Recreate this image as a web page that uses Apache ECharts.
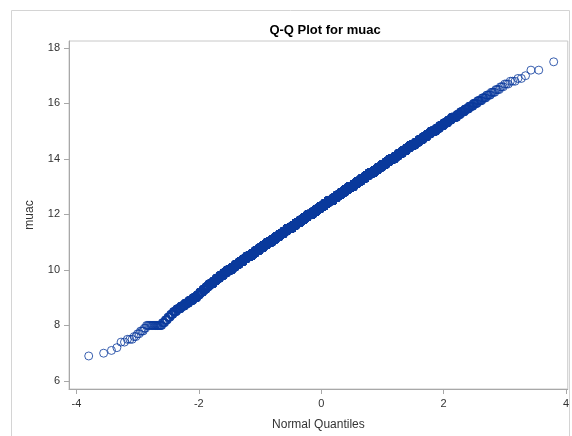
<!DOCTYPE html>
<html>
<head>
<meta charset="utf-8">
<script src="https://cdn.jsdelivr.net/npm/echarts@6/dist/echarts.min.js"></script>
<style>html,body{margin:0;padding:0;background:#fff}#c{width:572px;height:436px}</style>
</head>
<body>
<div id="c"></div>
<script>
// ---- data ----
const chartTitle = "Q-Q Plot for muac";
const xTitle = "Normal Quantiles";
const yTitle = "muac";
const xTicks = [-4, -2, 0, 2, 4];
const yTicks = [6, 8, 10, 12, 14, 16, 18];
// observed muac values (distinct levels, sorted) and how many observations sit at each level
const muacLevels = [
  6.9, 7.0, 7.1, 7.2, 7.4, 7.5, 7.6, 7.7, 7.8, 7.9,
  8.0, 8.1, 8.2, 8.3, 8.4, 8.5, 8.6, 8.7, 8.8, 8.9,
  9.0, 9.1, 9.2, 9.3, 9.4, 9.5, 9.6, 9.7, 9.8, 9.9,
  10.0, 10.1, 10.2, 10.3, 10.4, 10.5, 10.6, 10.7, 10.8, 10.9,
  11.0, 11.1, 11.2, 11.3, 11.4, 11.5, 11.6, 11.7, 11.8, 11.9,
  12.0, 12.1, 12.2, 12.3, 12.4, 12.5, 12.6, 12.7, 12.8, 12.9,
  13.0, 13.1, 13.2, 13.3, 13.4, 13.5, 13.6, 13.7, 13.8, 13.9,
  14.0, 14.1, 14.2, 14.3, 14.4, 14.5, 14.6, 14.7, 14.8, 14.9,
  15.0, 15.1, 15.2, 15.3, 15.4, 15.5, 15.6, 15.7, 15.8, 15.9,
  16.0, 16.1, 16.2, 16.3, 16.4, 16.5, 16.6, 16.7, 16.8, 16.9,
  17.0, 17.2, 17.5
];
const levelCounts = [
  1, 1, 1, 1, 2, 3, 2, 2, 3, 2,
  22, 6, 6, 7, 8, 11, 15, 18, 20, 24,
  27, 20, 27, 29, 28, 48, 36, 48, 58, 54,
  92, 67, 87, 95, 88, 147, 104, 131, 141, 128,
  207, 143, 177, 185, 164, 261, 176, 213, 219, 190,
  294, 195, 230, 230, 195, 296, 191, 221, 217, 179,
  267, 168, 190, 182, 148, 215, 133, 146, 137, 109,
  153, 93, 100, 92, 71, 99, 59, 62, 55, 42,
  57, 32, 34, 30, 22, 29, 16, 17, 14, 12,
  10, 9, 7, 6, 5, 4, 3, 3, 3, 2,
  1, 2, 1
];

// ---- Q-Q construction: sorted observations vs. Blom normal quantiles ----
function invNorm(p) {
  const a = [-3.969683028665376e+01, 2.209460984245205e+02, -2.759285104469687e+02, 1.383577518672690e+02, -3.066479806614716e+01, 2.506628277459239e+00];
  const b = [-5.447609879822406e+01, 1.615858368580409e+02, -1.556989798598866e+02, 6.680131188771972e+01, -1.328068155288572e+01];
  const c = [-7.784894002430293e-03, -3.223964580411365e-01, -2.400758277161838e+00, -2.549732539343734e+00, 4.374664141464968e+00, 2.938163982698783e+00];
  const d = [7.784695709041462e-03, 3.224671290700398e-01, 2.445134137142996e+00, 3.754408661907416e+00];
  const pl = 0.02425, ph = 1 - pl;
  let q, r;
  if (p < pl) {
    q = Math.sqrt(-2 * Math.log(p));
    return (((((c[0]*q+c[1])*q+c[2])*q+c[3])*q+c[4])*q+c[5]) / ((((d[0]*q+d[1])*q+d[2])*q+d[3])*q+1);
  } else if (p <= ph) {
    q = p - 0.5; r = q * q;
    return (((((a[0]*r+a[1])*r+a[2])*r+a[3])*r+a[4])*r+a[5])*q / (((((b[0]*r+b[1])*r+b[2])*r+b[3])*r+b[4])*r+1);
  } else {
    q = Math.sqrt(-2 * Math.log(1 - p));
    return -(((((c[0]*q+c[1])*q+c[2])*q+c[3])*q+c[4])*q+c[5]) / ((((d[0]*q+d[1])*q+d[2])*q+d[3])*q+1);
  }
}
const observations = [];
muacLevels.forEach((v, i) => { for (let k = 0; k < levelCounts[i]; k++) observations.push(v); });
const n = observations.length;
const qqData = observations.map((v, i) => [invNorm((i + 1 - 0.375) / (n + 0.25)), v]);

// ---- chart ----
const chart = echarts.init(document.getElementById('c'), null, { renderer: 'canvas' });
const font = "'Liberation Sans', Arial, sans-serif";
const axisGray = '#a8a8a8';
const textColor = '#333333';
chart.setOption({
  animation: false,
  backgroundColor: '#ffffff',
  title: {
    text: chartTitle,
    left: 320, top: 19, textAlign: 'center',
    textStyle: { fontFamily: font, fontSize: 13, fontWeight: 'bold', color: '#000' }
  },
  graphic: [{
    type: 'rect', silent: true,
    shape: { x: 11.5, y: 10.5, width: 558, height: 440 },
    style: { fill: null, stroke: '#d4d4d4', lineWidth: 1 }
  }],
  grid: { left: 69, top: 41, right: 3, bottom: 47, show: true, borderColor: '#c8c8c8', borderWidth: 1 },
  xAxis: {
    type: 'value', min: -4.122, max: 4.03,
    name: xTitle, nameLocation: 'middle', nameGap: 30,
    nameTextStyle: { fontFamily: font, fontSize: 12, color: textColor },
    axisLine: { show: true, onZero: false, lineStyle: { color: axisGray } },
    axisTick: { show: true, length: 5, customValues: xTicks, lineStyle: { color: axisGray } },
    axisLabel: { customValues: xTicks, margin: 9, fontFamily: font, fontSize: 11, color: textColor },
    splitLine: { show: false }
  },
  yAxis: {
    type: 'value', min: 5.71, max: 18.25,
    name: yTitle, nameLocation: 'middle', nameGap: 33, nameRotate: 90,
    nameTextStyle: { fontFamily: font, fontSize: 12, color: textColor },
    axisLine: { show: true, onZero: false, lineStyle: { color: axisGray } },
    axisTick: { show: true, length: 5, customValues: yTicks, lineStyle: { color: axisGray } },
    axisLabel: { customValues: yTicks, margin: 9, fontFamily: font, fontSize: 11, color: textColor },
    splitLine: { show: false }
  },
  series: [{
    type: 'scatter',
    data: qqData,
    symbol: 'circle', symbolSize: 8,
    large: false, progressive: 0,
    itemStyle: { color: 'rgba(0,0,0,0)', borderColor: '#0a3a9c', borderWidth: 1 },
    emphasis: { disabled: true }
  }]
});
</script>
</body>
</html>
